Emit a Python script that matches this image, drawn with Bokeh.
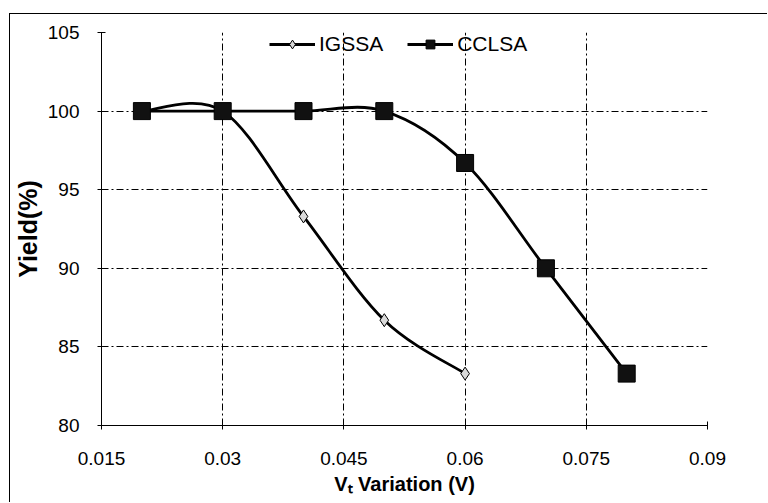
import numpy as np
from bokeh.plotting import figure
from bokeh.models import (Range1d, FixedTicker, CustomJSTickFormatter, Legend, LegendItem,
                          ColumnDataSource)
from bokeh.embed import file_html
from bokeh.resources import INLINE

# ---- data ----
igssa_x = [0.02, 0.03, 0.04, 0.05, 0.06]
igssa_y = [100, 100, 93.3, 86.7, 83.3]
cclsa_x = [0.02, 0.03, 0.04, 0.05, 0.06, 0.07, 0.08]
cclsa_y = [100, 100, 100, 100, 96.7, 90, 83.3]
x_ticks = [0.015, 0.03, 0.045, 0.06, 0.075, 0.09]
y_ticks = [80, 85, 90, 95, 100, 105]
series_names = ["IGSSA", "CCLSA"]

FONT = "Liberation Sans"

p = figure(width=758, height=489, output_backend="svg", toolbar_location=None,
           x_range=Range1d(0.015, 0.09), y_range=Range1d(80, 105),
           min_border_left=90, min_border_right=61, min_border_top=18, min_border_bottom=78,
           background_fill_color="white", border_fill_color="white")
p.outline_line_color = None
p.margin = (13, 0, 0, 9)
p.styles = {"border-left": "1px solid black", "border-top": "1px solid black"}

# axes
for ax in (p.xaxis[0], p.yaxis[0]):
    ax.major_label_text_font = FONT
    ax.major_label_text_font_size = "19px"
    ax.major_label_text_color = "black"
    ax.axis_line_color = "black"
    ax.major_tick_line_color = "black"
    ax.major_tick_in = 4
    ax.major_tick_out = 4
    ax.minor_tick_line_color = None
    ax.axis_label_text_font = FONT
    ax.axis_label_text_font_style = "bold"
    ax.axis_label_text_color = "black"

p.xaxis.ticker = FixedTicker(ticks=x_ticks)
p.yaxis.ticker = FixedTicker(ticks=y_ticks)
p.xaxis.formatter = CustomJSTickFormatter(code="return tick.toFixed(3).replace(/0+$/, '');")
p.xaxis.axis_label = "V\u209c Variation (V)"
p.yaxis.axis_label = "Yield(%)"
p.xaxis.axis_label_text_font_size = "20px"
p.yaxis.axis_label_text_font_size = "25px"
p.xaxis.major_label_standoff = 22
p.yaxis.major_label_standoff = 18
p.xaxis.axis_label_standoff = 5
p.yaxis.axis_label_standoff = 3

# grid
for g in (p.xgrid[0], p.ygrid[0]):
    g.grid_line_color = "black"
    g.grid_line_dash = "7 3 2 3"
    g.grid_line_width = 1

def bezier_segments(xs, ys):
    pts = np.column_stack([xs, ys]).astype(float)
    n = len(pts)
    seg = dict(x0=[], y0=[], x1=[], y1=[], cx0=[], cy0=[], cx1=[], cy1=[])
    for i in range(n - 1):
        p0 = pts[i - 1] if i > 0 else pts[i]
        p1 = pts[i]
        p2 = pts[i + 1]
        p3 = pts[i + 2] if i + 2 < n else pts[i + 1]
        c1 = p1 + (p2 - p0) / 6.0
        c2 = p2 - (p3 - p1) / 6.0
        seg["x0"].append(p1[0]); seg["y0"].append(p1[1])
        seg["x1"].append(p2[0]); seg["y1"].append(p2[1])
        seg["cx0"].append(c1[0]); seg["cy0"].append(c1[1])
        seg["cx1"].append(c2[0]); seg["cy1"].append(c2[1])
    return ColumnDataSource(seg)

LW = 2.8
b1 = p.bezier(x0="x0", y0="y0", x1="x1", y1="y1", cx0="cx0", cy0="cy0", cx1="cx1", cy1="cy1",
              source=bezier_segments(igssa_x, igssa_y), line_color="black", line_width=LW)
b2 = p.bezier(x0="x0", y0="y0", x1="x1", y1="y1", cx0="cx0", cy0="cy0", cx1="cx1", cy1="cy1",
              source=bezier_segments(cclsa_x, cclsa_y), line_color="black", line_width=LW)

m1 = p.scatter(igssa_x, igssa_y, marker="diamond", size=13, fill_color="#d9d9d9",
               line_color="black", line_width=1)
m2 = p.scatter(cclsa_x, cclsa_y, marker="square", size=17, fill_color="#111111",
               line_color="black", line_width=1)

legend = Legend(items=[LegendItem(label=series_names[0], renderers=[b1, m1]),
                       LegendItem(label=series_names[1], renderers=[b2, m2])],
                location=(168, 369), orientation="horizontal",
                label_text_font=FONT, label_text_font_size="21px",
                label_text_color="black",
                glyph_width=46, glyph_height=22, label_standoff=4, spacing=24,
                padding=0, margin=0, background_fill_alpha=0, border_line_alpha=0)
p.add_layout(legend, "center")

open("out.html", "w").write(file_html(p, INLINE))
